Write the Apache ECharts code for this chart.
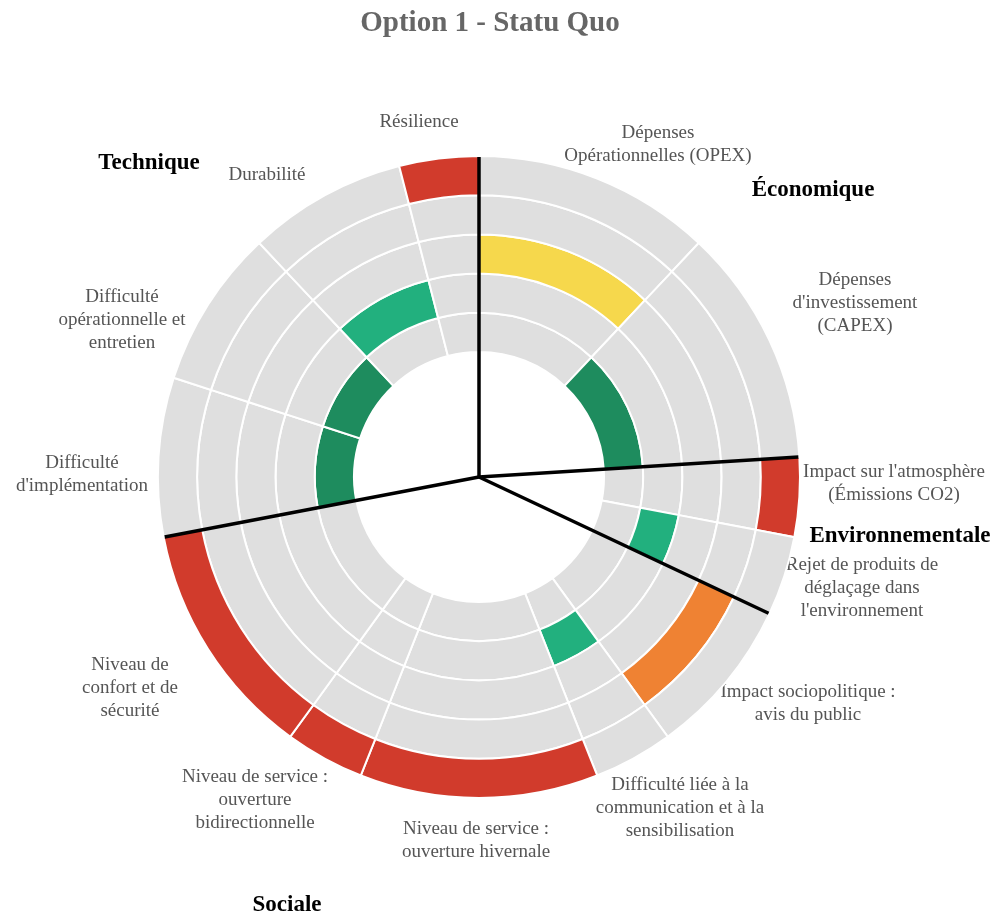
<!DOCTYPE html>
<html>

<head>
    <meta charset="utf-8">
    <title>Option 1 - Statu Quo</title>
    <script src="https://cdn.jsdelivr.net/npm/echarts@6/dist/echarts.min.js"></script>
    <style>
        * {
            margin: 0;
            padding: 0;
        }
    </style>
</head>

<body>
    <div id="main" style="width: 1003px; height: 921px;"></div>
    <script type="text/javascript">

        // critères, dans le sens horaire depuis le haut
        var criteria = [
            'Dépenses\nOpérationnelles (OPEX)',
            'Dépenses\nd\'investissement\n(CAPEX)',
            'Impact sur l\'atmosphère\n(Émissions CO2)',
            'Rejet de produits de\ndéglaçage dans\nl\'environnement',
            'Impact sociopolitique :\navis du public',
            'Difficulté liée à la\ncommunication et à la\nsensibilisation',
            'Niveau de service :\nouverture hivernale',
            'Niveau de service :\nouverture\nbidirectionnelle',
            'Niveau de\nconfort et de\nsécurité',
            'Difficulté\nd\'implémentation',
            'Difficulté\nopérationnelle et\nentretien',
            'Durabilité',
            'Résilience'
        ];
        // pondération (%) = largeur angulaire
        var weights = [12, 12, 4, 4, 8, 4, 12, 4, 12, 8, 8, 8, 4];
        // note de 1 (intérieur) à 5 (extérieur)
        var scores = [3, 1, 5, 2, 4, 2, 5, 5, 5, 1, 1, 2, 5];
        var rings = ['1', '2', '3', '4', '5'];

        var groups = ['Économique', 'Environnementale', 'Sociale', 'Technique'];
        var groupStarts = [0, 24, 32, 72];

        var scoreColors = ['#1e8c5e', '#22b07e', '#f6d84c', '#ef8233', '#d13b2c'];
        var gray = '#dfdfdf';

        // emplacement des étiquettes (centre du bloc de texte)
        var labelPos = [
            [658, 145], [855, 303], [894, 484], [862, 588], [808, 704],
            [680, 808], [476, 841], [255, 800], [130, 688], [82, 475],
            [122, 320], [267, 175], [419, 122]
        ];
        var groupPos = [[813, 190], [900, 536], [287, 905], [149, 163]];

        var myChart = echarts.init(document.getElementById('main'));

        var series = criteria.map(function (name, i) {
            return {
                type: 'bar',
                name: name,
                coordinateSystem: 'polar',
                polarIndex: 0,
                stack: 'poids',
                barCategoryGap: '0%',
                silent: true,
                itemStyle: {
                    borderColor: '#fff',
                    borderWidth: 2
                },
                data: rings.map(function (r, k) {
                    return {
                        value: weights[i],
                        itemStyle: {
                            color: k + 1 === scores[i] ? scoreColors[scores[i] - 1] : gray
                        }
                    };
                })
            };
        });

        // séparateurs noirs entre les groupes
        series.push({
            type: 'custom',
            coordinateSystem: 'polar',
            polarIndex: 1,
            silent: true,
            z: 10,
            data: groupStarts.map(function (a) { return [1, a]; }),
            renderItem: function (params, api) {
                var p0 = api.coord([0, api.value(1)]);
                var p1 = api.coord([api.value(0), api.value(1)]);
                return {
                    type: 'line',
                    shape: { x1: p0[0], y1: p0[1], x2: p1[0], y2: p1[1] },
                    style: { stroke: '#000', lineWidth: 3.5 }
                };
            }
        });

        var graphics = [{
            type: 'text',
            x: 490,
            y: 24,
            style: {
                text: 'Option 1 - Statu Quo',
                font: 'bold 29px "Liberation Serif"',
                fill: '#666',
                textAlign: 'center',
                textVerticalAlign: 'middle'
            }
        }];
        criteria.forEach(function (name, i) {
            graphics.push({
                type: 'text',
                x: labelPos[i][0],
                y: labelPos[i][1],
                style: {
                    text: name,
                    font: '19px "Liberation Serif"',
                    lineHeight: 23,
                    fill: '#555',
                    textAlign: 'center',
                    textVerticalAlign: 'middle'
                }
            });
        });
        groups.forEach(function (name, i) {
            graphics.push({
                type: 'text',
                x: groupPos[i][0],
                y: groupPos[i][1],
                style: {
                    text: name,
                    font: 'bold 23px "Liberation Serif"',
                    fill: '#000',
                    textAlign: 'center',
                    textVerticalAlign: 'middle'
                }
            });
        });

        var option = {
            backgroundColor: '#fff',
            animation: false,
            polar: [
                { center: [479, 477], radius: [125, 321] },
                { center: [479, 477], radius: [0, 320] }
            ],
            angleAxis: [
                { polarIndex: 0, type: 'value', min: 0, max: 100, startAngle: 90, clockwise: true, show: false },
                { polarIndex: 1, type: 'value', min: 0, max: 100, startAngle: 90, clockwise: true, show: false }
            ],
            radiusAxis: [
                { polarIndex: 0, type: 'category', data: rings, show: false },
                { polarIndex: 1, type: 'value', min: 0, max: 1, show: false }
            ],
            graphic: graphics,
            series: series
        };

        myChart.setOption(option);
    </script>
</body>

</html>
